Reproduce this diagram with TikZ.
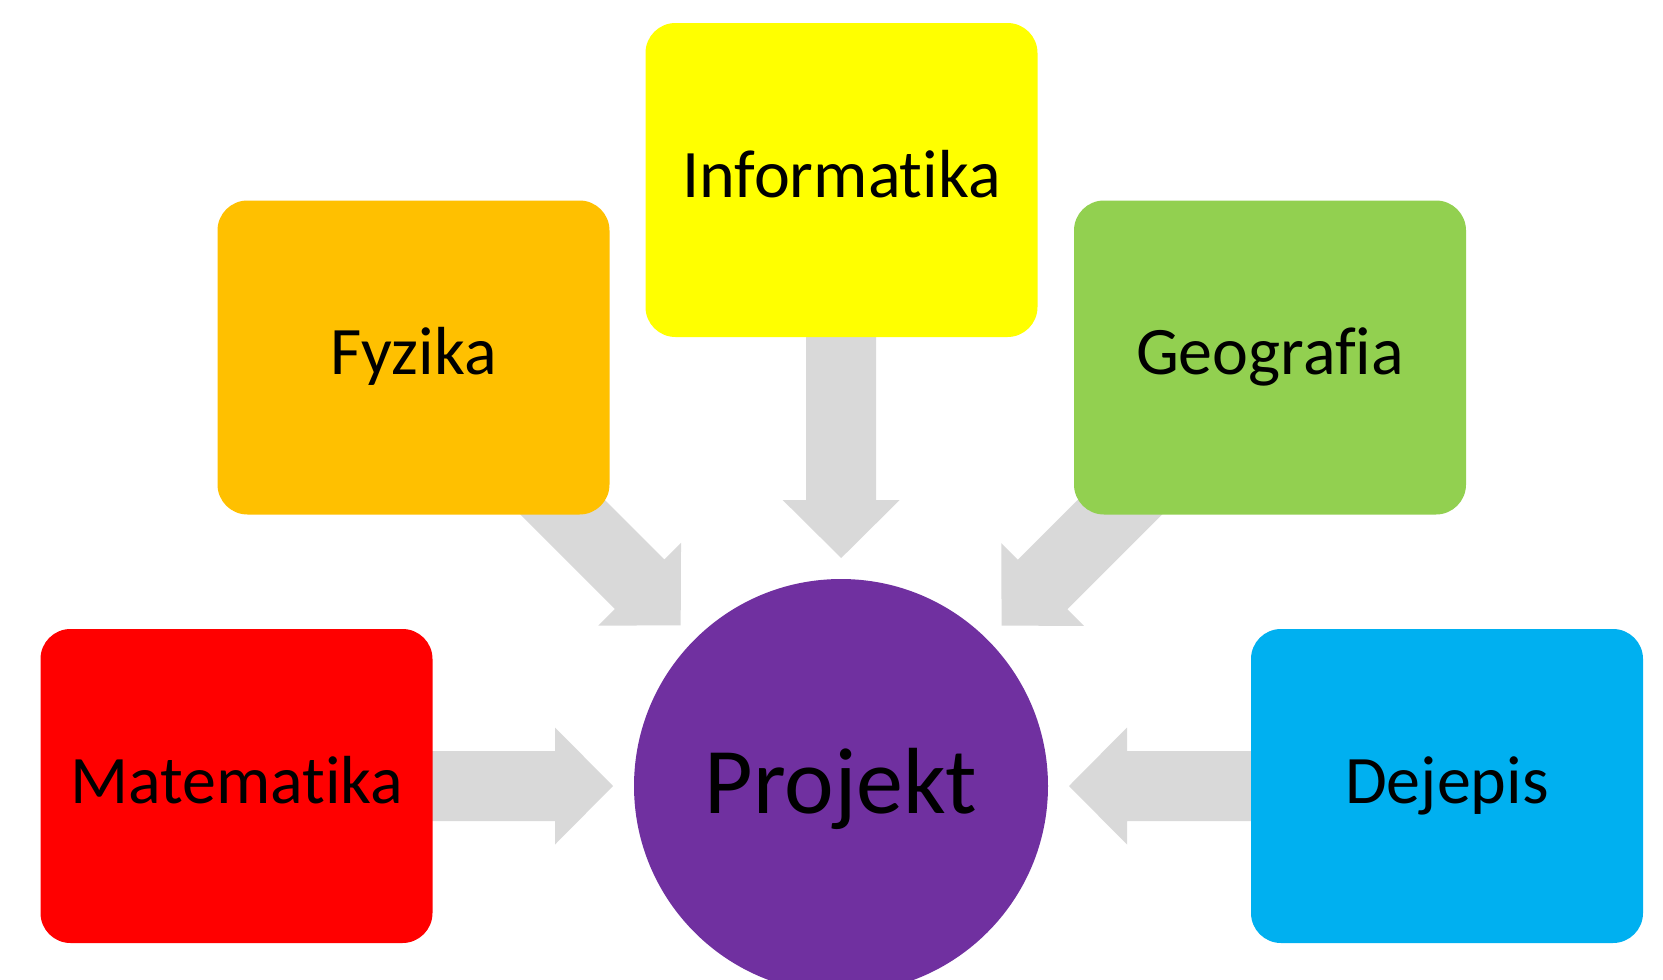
\documentclass[tikz,border=0pt]{standalone}
\usepackage{fontspec}
\setmainfont{Carlito}[Ligatures={NoCommon}]
\usetikzlibrary{calc}
\definecolor{cinf}{HTML}{FFFF00}
\definecolor{cfyz}{HTML}{FFC000}
\definecolor{cgeo}{HTML}{92D050}
\definecolor{cmat}{HTML}{FF0000}
\definecolor{cdej}{HTML}{00B0F0}
\definecolor{cproj}{HTML}{7030A0}
\definecolor{arrowgray}{HTML}{D9D9D9}
\pgfdeclarelayer{background}
\pgfsetlayers{background,main}
\newcommand\blockarr[2]{%
  \fill[arrowgray, shift={(#1)}, rotate=#2] (0,0) -- (-58,58.5) -- (-58,35) -- (-370,35) -- (-370,-35) -- (-58,-35) -- (-58,-58.5) -- cycle;}
\tikzset{
  box/.style={rectangle, rounded corners=30pt, minimum width=392pt, minimum height=314pt,
    inner sep=0pt, font=\fontsize{68}{74}\selectfont, text height=34pt, text depth=0pt},
  hub/.style={circle, minimum size=414pt, inner sep=0pt, fill=cproj,
    font=\fontsize{94}{100}\selectfont, text height=54pt, text depth=0pt}
}
\begin{document}
\begin{tikzpicture}[x=1pt,y=-1pt]
\clip (0,0) rectangle (1663,980);
\node[box, fill=cinf] (inf) at (841.5,180) {Informatika};
\node[box, fill=cfyz] (fyz) at (413.5,357.5) {Fyzika};
\node[box, fill=cgeo] (geo) at (1270,357.5) {Geografia};
\node[box, fill=cmat] (mat) at (236.5,786) {Matematika};
\node[box, fill=cdej] (dej) at (1447,786) {Dejepis};
\node[hub] (proj) at (841,786) {Projekt};
\coordinate (tinf) at ($(proj.center)!228pt!(inf.center)$);
\coordinate (tfyz) at ($(proj.center)!227pt!(fyz.center)$);
\coordinate (tgeo) at ($(proj.center)!227pt!(geo.center)$);
\coordinate (tmat) at ($(proj.center)!228pt!(mat.center)$);
\coordinate (tdej) at ($(proj.center)!228pt!(dej.center)$);
\begin{pgfonlayer}{background}
\fill[white] (0,0) rectangle (1663,980);
\blockarr{tinf}{-90}
\blockarr{tfyz}{-45}
\blockarr{tgeo}{-135}
\blockarr{tmat}{0}
\blockarr{tdej}{180}
\end{pgfonlayer}
\end{tikzpicture}
\end{document}
